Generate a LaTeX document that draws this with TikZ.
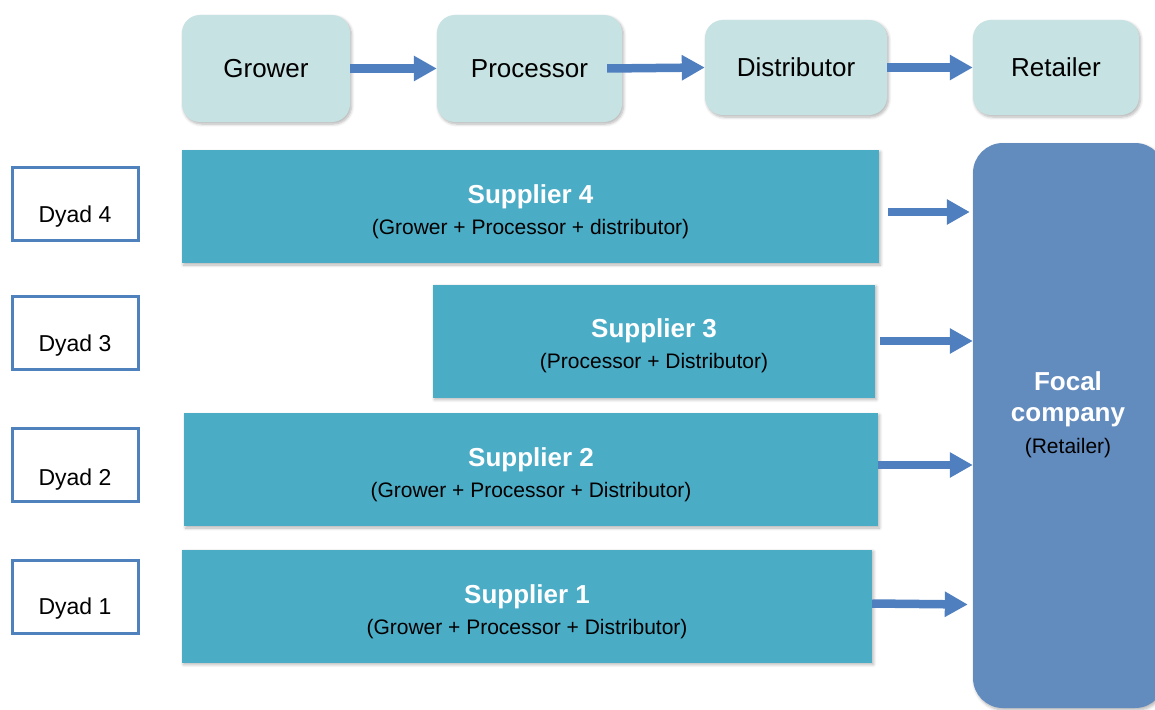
\documentclass[tikz,border=0pt]{standalone}
\usepackage{fontspec}
\setmainfont{Liberation Sans}
\usetikzlibrary{arrows.meta,shadows.blur}
\definecolor{topfill}{HTML}{C6E2E2}
\definecolor{supfill}{HTML}{4BACC6}
\definecolor{focfill}{HTML}{628BBE}
\definecolor{arrblue}{HTML}{4F7FBF}
\definecolor{dyadblue}{HTML}{4F81BD}
\tikzset{
  sh/.style={blur shadow={shadow xshift=1.5pt, shadow yshift=-2pt, shadow blur steps=6, shadow opacity=30, shadow blur radius=3pt}},
  topbox/.style={fill=topfill, draw=none, rounded corners=18pt, inner sep=0pt, sh, font=\fontsize{26}{31}\selectfont},
  supbox/.style={fill=supfill, draw=none, inner sep=0pt, minimum height=113pt, sh},
  suptitle/.style={anchor=base, inner sep=0pt, text=white, font=\bfseries\fontsize{26}{31}\selectfont},
  supsub/.style={anchor=base, inner sep=0pt, text=black, font=\fontsize{21}{25}\selectfont},
  dyadbox/.style={draw=dyadblue, line width=3pt, fill=white, inner sep=0pt, minimum width=126pt, minimum height=73pt},
  dyadtext/.style={anchor=base, inner sep=0pt, font=\fontsize{23}{27}\selectfont},
  arr/.style={draw=arrblue, line width=8.5pt, -{Triangle[length=23pt,width=24pt]}, shorten <=0pt}
}
\begin{document}
\begin{tikzpicture}[x=1pt,y=-1pt]
\useasboundingbox (0,0) rectangle (1155,709);
% top chain
\node[topbox, minimum width=168pt, minimum height=107pt] (grower) at (266,68.5) {Grower};
\node[topbox, minimum width=185pt, minimum height=107pt] (proc) at (529.5,68.5) {Processor};
\node[topbox, minimum width=182pt, minimum height=95pt] (dist) at (796,67.5) {Distributor};
\node[topbox, minimum width=166pt, minimum height=95pt] (ret) at (1056,67.5) {Retailer};
\draw[arr] (grower.east) -- (proc.west);
\draw[arr] ([xshift=-15pt]proc.east) -- (dist.west);
\draw[arr] (dist.east) -- (ret.west);
% focal company
\node[fill=focfill, draw=none, rounded corners=30pt, inner sep=0pt, minimum width=192pt, minimum height=565pt, sh] (focal) at (1069,425.5) {};
\node[anchor=base, inner sep=0pt, text=white, font=\bfseries\fontsize{26}{31}\selectfont] (foc1) at (1068,390) {Focal};
\node[anchor=base, inner sep=0pt, text=white, font=\bfseries\fontsize{26}{31}\selectfont] (foc2) at (1068,421) {company};
\node[anchor=base, inner sep=0pt, font=\fontsize{21}{25}\selectfont] (foc3) at (1068,453) {(Retailer)};
% suppliers
\node[supbox, minimum width=697pt] (s4) at (530.5,206.5) {};
\node[suptitle] (s4t) at ([yshift=3pt]s4.center) {Supplier 4};
\node[supsub] (s4s) at ([yshift=-27.5pt]s4.center) {(Grower + Processor + distributor)};
\node[supbox, minimum width=442pt] (s3) at (654,341) {};
\node[suptitle] (s3t) at ([yshift=3.5pt]s3.center) {Supplier 3};
\node[supsub] (s3s) at ([yshift=-27.5pt]s3.center) {(Processor + Distributor)};
\node[supbox, minimum width=694pt] (s2) at (531,469.5) {};
\node[suptitle] (s2t) at ([yshift=3.5pt]s2.center) {Supplier 2};
\node[supsub] (s2s) at ([yshift=-27.5pt]s2.center) {(Grower + Processor + Distributor)};
\node[supbox, minimum width=690pt] (s1) at (527,606) {};
\node[suptitle] (s1t) at ([yshift=3pt]s1.center) {Supplier 1};
\node[supsub] (s1s) at ([yshift=-28pt]s1.center) {(Grower + Processor + Distributor)};
% supplier arrows
\draw[arr] ([shift={(9pt,-5.5pt)}]s4.east) -- ([shift={(-3pt,-5.5pt)}]s4.east -| focal.west);
\draw[arr] ([xshift=5pt]s3.east) -- (s3.east -| focal.west);
\draw[arr] ([yshift=4.5pt]s2.east) -- ([yshift=4.5pt]s2.east -| focal.west);
\draw[arr] ([yshift=2.5pt]s1.east) -- ([shift={(-5pt,1.5pt)}]s1.east -| focal.west);
% dyads
\node[dyadbox] (d4) at (75,203.5) {};
\node[dyadtext] (d4t) at (75,222) {Dyad 4};
\node[dyadbox] (d3) at (75,333) {};
\node[dyadtext] (d3t) at (75,351) {Dyad 3};
\node[dyadbox] (d2) at (75,465) {};
\node[dyadtext] (d2t) at (75,485) {Dyad 2};
\node[dyadbox] (d1) at (75,596.5) {};
\node[dyadtext] (d1t) at (75,614) {Dyad 1};
\end{tikzpicture}
\end{document}
